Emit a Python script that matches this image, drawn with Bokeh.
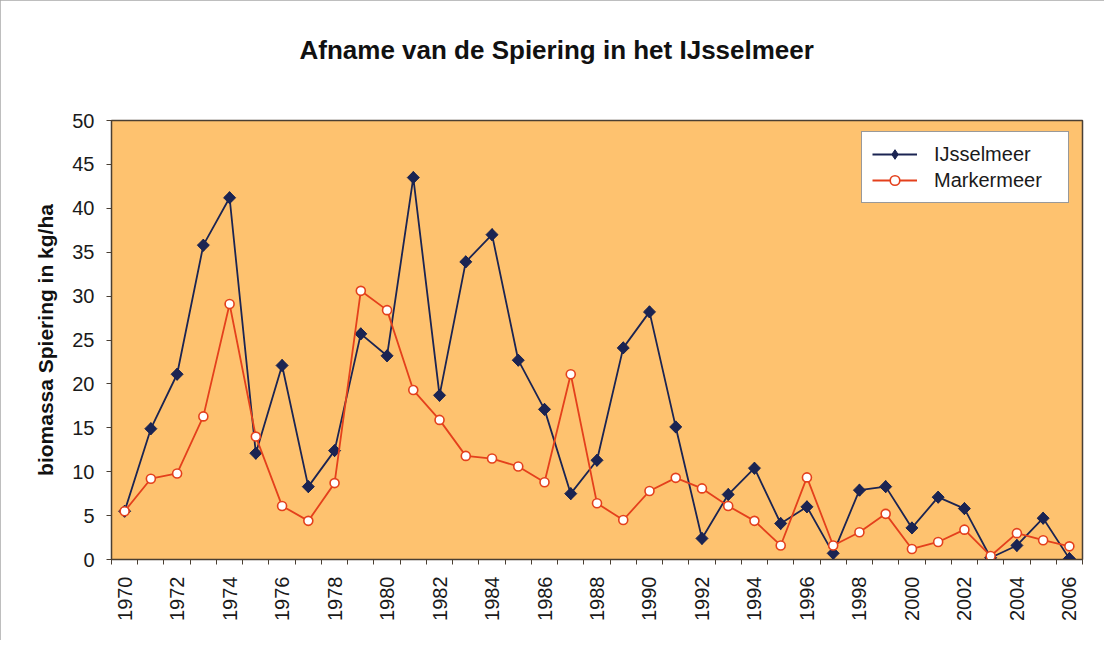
import math
from bokeh.plotting import figure
from bokeh.models import FixedTicker, Range1d, Legend, Title
from bokeh.embed import file_html
from bokeh.resources import INLINE

years = list(range(1970, 2007))
ijsselmeer = [5.5, 14.9, 21.1, 35.8, 41.2, 12.1, 22.1, 8.3, 12.4, 25.7, 23.2, 43.5, 18.7,
              33.9, 37.0, 22.7, 17.1, 7.5, 11.3, 24.1, 28.2, 15.1, 2.4, 7.4, 10.4, 4.1,
              6.0, 0.7, 7.9, 8.3, 3.6, 7.1, 5.8, 0.2, 1.6, 4.7, 0.1]
markermeer = [5.5, 9.2, 9.8, 16.3, 29.1, 14.0, 6.1, 4.4, 8.7, 30.6, 28.4, 19.3, 15.9,
              11.8, 11.5, 10.6, 8.8, 21.1, 6.4, 4.5, 7.8, 9.3, 8.1, 6.1, 4.4, 1.6,
              9.35, 1.6, 3.1, 5.2, 1.2, 2.0, 3.4, 0.4, 3.0, 2.2, 1.5]
x_tick_labels = list(range(1970, 2007, 2))
y_ticks = list(range(0, 51, 5))

title_text = "Afname van de Spiering in het IJsselmeer"
y_label = "biomassa Spiering in kg/ha"

FONT = "Liberation Sans"
NAVY = "#1b2452"
RED = "#e4401c"
FRAME = "#4a3f33"

p = figure(width=1104, height=640, output_backend="svg", toolbar_location=None,
           x_range=Range1d(1969.5, 2006.5), y_range=Range1d(0, 50),
           min_border_left=111, min_border_right=22, min_border_top=120,
           min_border_bottom=81)
p.title = None
t = Title(text=title_text + "\n ", align="left", text_font=FONT, text_font_size="26px",
          text_font_style="bold", text_color="#111111", standoff=52, offset=188)
p.add_layout(t, "above")

p.background_fill_color = "#fec26f"
p.border_fill_color = "white"
p.outline_line_color = FRAME
p.outline_line_width = 1.5
p.xgrid.visible = False
p.ygrid.visible = False
p.styles = {"outline": "1px solid #a8a8a8", "outline-offset": "-1px"}

# x axis: labels on years, tick marks between categories
xa = p.xaxis[0]
xa.ticker = FixedTicker(ticks=x_tick_labels,
                        minor_ticks=[y - 0.5 for y in years] + [2006.5])
xa.major_label_orientation = math.pi / 2
xa.major_tick_out = 0
xa.major_tick_in = 0
xa.minor_tick_out = 5
xa.minor_tick_in = 0
xa.minor_tick_line_color = FRAME
xa.axis_line_color = FRAME
xa.major_label_text_font = FONT
xa.major_label_text_font_size = "20px"
xa.major_label_text_color = "#1a1a1a"
xa.major_label_standoff = 12

ya = p.yaxis[0]
ya.ticker = FixedTicker(ticks=y_ticks)
ya.major_tick_out = 5
ya.major_tick_in = 0
ya.minor_tick_out = 0
ya.minor_tick_in = 0
ya.major_tick_line_color = FRAME
ya.axis_line_color = FRAME
ya.major_label_text_font = FONT
ya.major_label_text_font_size = "20px"
ya.major_label_text_color = "#1a1a1a"
ya.major_label_standoff = 12
ya.axis_label = y_label
ya.axis_label_text_font = FONT
ya.axis_label_text_font_size = "21px"
ya.axis_label_text_font_style = "bold"
ya.axis_label_text_color = "#111111"
ya.axis_label_standoff = 12

l1 = p.line(years, ijsselmeer, line_color=NAVY, line_width=1.8)
# diamond drawn beneath the rotated squares; used for the legend key
k1 = p.scatter(years, ijsselmeer, marker="diamond", size=12, fill_color=NAVY,
               line_color=NAVY, line_width=1)
m1 = p.scatter(years, ijsselmeer, marker="square", angle=math.pi / 4, size=8.5,
               fill_color=NAVY, line_color=NAVY, line_width=1)
l2 = p.line(years, markermeer, line_color=RED, line_width=1.8)
m2 = p.scatter(years, markermeer, marker="circle", size=9, fill_color="white",
               line_color=RED, line_width=1.6)

legend = Legend(items=[("IJsselmeer", [l1, k1]), ("Markermeer", [l2, m2])],
                location=(750, 356), orientation="vertical",
                label_text_font=FONT, label_text_font_size="20px",
                label_text_color="#1a1a1a",
                background_fill_color="white", background_fill_alpha=1,
                border_line_color="#333333", border_line_width=1,
                padding=10, spacing=2, margin=0,
                glyph_width=45, glyph_height=24, label_standoff=17,
                label_width=124, label_height=24)
p.add_layout(legend, "center")

open("out.html", "w").write(file_html(p, INLINE))
